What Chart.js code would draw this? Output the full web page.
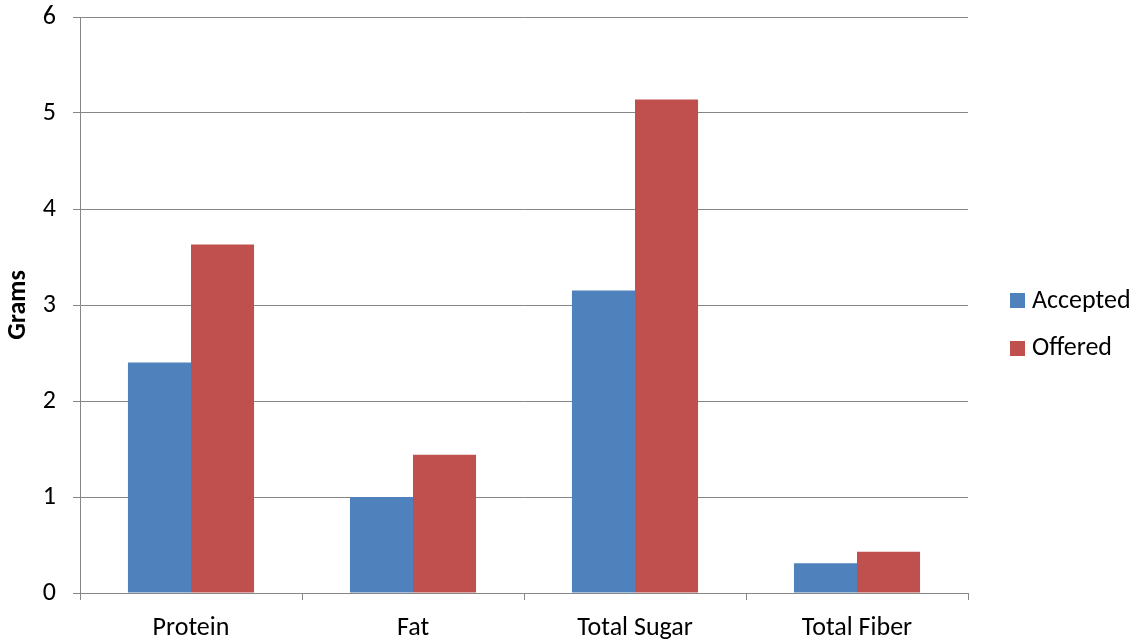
<!DOCTYPE html>
<html>
<head>
<meta charset="utf-8">
<script src="https://cdn.jsdelivr.net/npm/chart.js@4.4.1/dist/chart.umd.min.js"></script>
<style>
  html, body { margin: 0; padding: 0; background: #ffffff; }
  #wrap { width: 1138px; height: 643px; }
</style>
</head>
<body>
<div id="wrap"><canvas id="chart" width="1138" height="643"></canvas></div>
<script>
// Nutrient amounts (grams) per category
const categories = ['Protein', 'Fat', 'Total Sugar', 'Total Fiber'];
const acceptedValues = [2.4, 1.0, 3.15, 0.31];
const offeredValues = [3.63, 1.44, 5.14, 0.43];
const yTicks = [0, 1, 2, 3, 4, 5, 6];
const seriesNames = ['Accepted', 'Offered'];

const FONT_FAMILY = 'Carlito, Calibri, Lato, sans-serif';
const FONT_SIZE = 26;
const GRID = '#868686';

// Legend drawn to the right of the plot, stacked vertically
const sideLegend = {
  id: 'sideLegend',
  afterDraw(chart) {
    const { ctx, chartArea } = chart;
    const midY = (chartArea.top + chartArea.bottom) / 2;
    const x0 = chartArea.right + 42;
    const rows = [midY - 5, midY + 42.5];
    ctx.save();
    ctx.font = FONT_SIZE + 'px ' + FONT_FAMILY;
    ctx.textBaseline = 'middle';
    ctx.textAlign = 'left';
    chart.data.datasets.forEach((ds, i) => {
      const cy = rows[i];
      ctx.fillStyle = ds.backgroundColor;
      ctx.fillRect(x0, Math.round(cy - 7), 15, 15);
      ctx.fillStyle = '#000000';
      ctx.fillText(ds.label, x0 + 22, cy + 1);
    });
    ctx.restore();
  }
};

new Chart(document.getElementById('chart'), {
  type: 'bar',
  data: {
    labels: categories,
    datasets: [
      { label: seriesNames[0], data: acceptedValues, backgroundColor: '#4F81BD' },
      { label: seriesNames[1], data: offeredValues, backgroundColor: '#C0504D' }
    ]
  },
  options: {
    responsive: false,
    devicePixelRatio: 1,
    animation: false,
    layout: { padding: { top: 17, right: 170, left: 0, bottom: 0 } },
    datasets: { bar: { categoryPercentage: 0.568, barPercentage: 1.0 } },
    plugins: {
      legend: { display: false },
      tooltip: { enabled: false }
    },
    scales: {
      x: {
        offset: true,
        grid: { display: true, drawOnChartArea: false, drawTicks: true, tickLength: 7, color: GRID, lineWidth: 1 },
        border: { display: true, color: GRID, width: 1 },
        ticks: { color: '#000000', padding: 13, font: { family: FONT_FAMILY, size: FONT_SIZE } },
        afterFit(scale) { scale.height = 50; }
      },
      y: {
        min: 0,
        max: 6,
        afterBuildTicks(scale) { scale.ticks = yTicks.map(v => ({ value: v })); },
        grid: { color: GRID, lineWidth: 1, tickLength: 7, drawTicks: true },
        border: { display: true, color: GRID, width: 1 },
        ticks: { color: '#000000', padding: 17, font: { family: FONT_FAMILY, size: FONT_SIZE } },
        title: {
          display: true,
          text: 'Grams',
          color: '#000000',
          padding: { top: 3, bottom: 0 },
          font: { family: FONT_FAMILY, size: FONT_SIZE, weight: 'bold' }
        },
        afterFit(scale) {
          scale.width = 80;
          scale.paddingTop = 0;
          scale.paddingBottom = 0;
        }
      }
    }
  },
  plugins: [sideLegend]
});
</script>
</body>
</html>
